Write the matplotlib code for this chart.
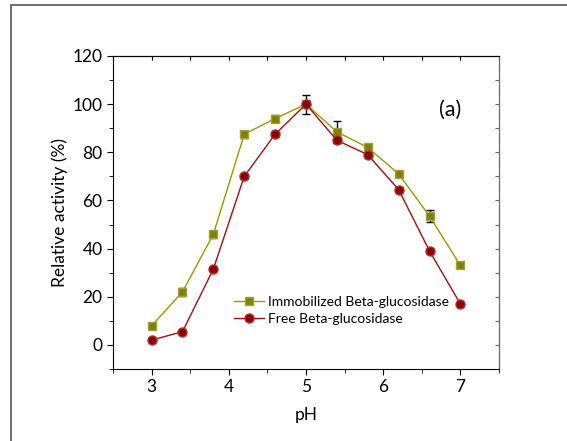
import matplotlib.pyplot as plt
from matplotlib.lines import Line2D
from matplotlib.patches import Rectangle
from matplotlib.ticker import MultipleLocator

plt.rcParams['font.family'] = ['Lato', 'DejaVu Sans']

ph = [3.0, 3.4, 3.8, 4.2, 4.6, 5.0, 5.4, 5.8, 6.2, 6.6, 7.0]
immob = [8, 22, 46, 87.5, 94, 100, 88.5, 82, 71, 53.5, 33]
immob_err = [1, 1.5, 1.5, 1.5, 1.5, 0.5, 4.5, 1.5, 1, 2.5, 1]
free = [2, 5.5, 31.5, 70, 87.5, 100, 85, 79, 64.5, 39, 17]
free_err = [0.5, 0.5, 1, 1, 1, 4, 1, 1, 1, 1, 0.5]

fig = plt.figure(figsize=(5.67, 4.41), dpi=100)
ax = fig.add_axes([113/567, 1 - 369/441, 386/567, 313/441])

# grey frame round the figure (only left/top visible)
fig.patches.append(Rectangle((11/567, -0.1), 1.2, 1 - 5/441 + 0.1, transform=fig.transFigure,
                             fill=False, edgecolor='#555555', linewidth=1.2))

imm_style = dict(color='#9a9a00', lw=1, marker='s', ms=6, mfc='#808000', mec='#a0a040')
free_style = dict(color='#a01010', lw=1, marker='o', ms=6.5, mfc='#8b0000', mec='#b03030')

ax.errorbar(ph, immob, yerr=immob_err, ecolor='black', elinewidth=1, capsize=3,
            zorder=3, **imm_style)
ax.errorbar(ph, free, yerr=free_err, ecolor='black', elinewidth=1, capsize=3,
            zorder=3, **free_style)

ax.set_xlim(2.5, 7.5)
ax.set_ylim(-10, 120)
ax.xaxis.set_major_locator(MultipleLocator(1))
ax.xaxis.set_minor_locator(MultipleLocator(0.5))
ax.yaxis.set_major_locator(MultipleLocator(20))
ax.yaxis.set_minor_locator(MultipleLocator(10))
ax.tick_params(which='both', direction='out', labelsize=12.5)
ax.tick_params(which='major', length=4)
ax.tick_params(which='minor', length=3)
ax.spines['right'].set_color('#666666')

top = ax.secondary_xaxis('top')
top.xaxis.set_major_locator(MultipleLocator(0.5))
top.tick_params(direction='in', length=3, labeltop=False)
right = ax.secondary_yaxis('right')
right.yaxis.set_major_locator(MultipleLocator(10))
right.tick_params(direction='in', length=3, labelright=False, color='#666666')
right.spines['right'].set_color('#666666')

ax.set_xlabel('pH', fontsize=12.5, labelpad=8)
ax.set_ylabel('Relative activity (%)', fontsize=12.5, labelpad=3)
ax.text(0.845, 0.81, '(a)', transform=ax.transAxes, fontsize=15.5)

handles = [Line2D([], [], **imm_style), Line2D([], [], **free_style)]
labels = ['Immobilized Beta-glucosidase', 'Free Beta-glucosidase']
ax.legend(handles, labels, loc='lower left', bbox_to_anchor=(0.28, 0.1), frameon=False,
          fontsize=10, handlelength=2.2, handletextpad=0.3, labelspacing=0.35)

fig.savefig('out.png', dpi=100)
